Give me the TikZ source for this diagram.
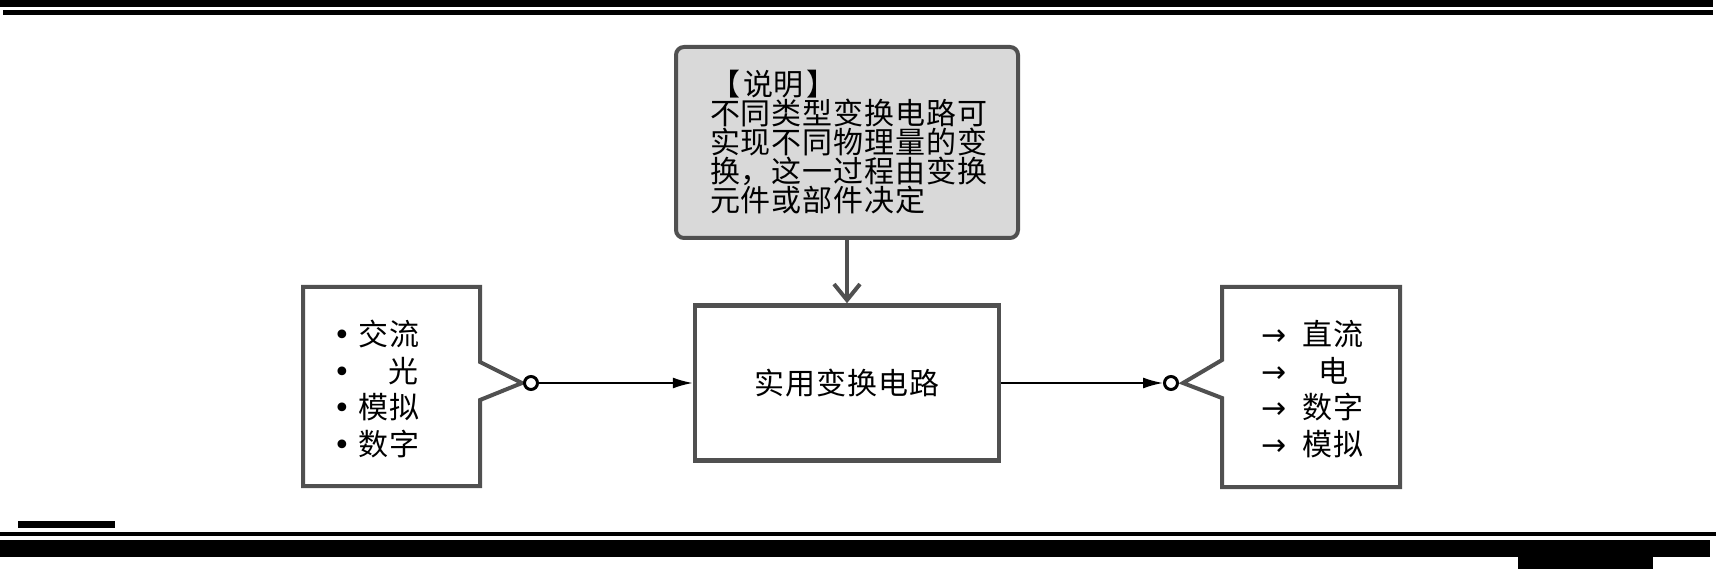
\documentclass[tikz,border=0pt]{standalone}
\usepackage{fontspec}
\setmainfont{Noto Sans CJK SC}[LetterSpace=3]
\newfontfamily\symb{DejaVu Sans}
\usetikzlibrary{positioning,arrows.meta}
\definecolor{framegray}{RGB}{80,80,80}
\definecolor{notefill}{RGB}{217,217,217}

\begin{document}
\begin{tikzpicture}[x=1pt, y=-1pt,
% first : the style of the scheme
    note/.style={
        rectangle,
        rounded corners=8pt,
        draw=framegray,
        fill=notefill,
        line width=4pt,
        align=left,
        text width=274pt,
        inner xsep=34pt,
        minimum height=191pt,
        font=\fontsize{30}{29}\selectfont
    },
    box/.style={
        rectangle,
        draw=framegray,
        line width=4.5pt,
        minimum width=304pt,
        minimum height=155pt,
        font=\fontsize{30}{30}\selectfont
    },
    port/.style={
        circle,
        draw=black,
        fill=white,
        line width=3pt,
        inner sep=0pt,
        minimum size=13pt
    },
    items/.style={
        align=left,
        inner sep=0pt,
        font=\fontsize{30}{36.5}\selectfont
    },
    >={Latex[length=20pt,width=11pt]}
]
\useasboundingbox (0,0) rectangle (1716,569);

% page rules
\fill (0,0) rectangle (1713,7.5);
\fill (3,10) rectangle (1713,15);
\fill (18,521) rectangle (115,528);
\fill (0,532) rectangle (1716,536);
\fill (0,540) rectangle (1710,557);
\fill (1518,557) rectangle (1653,569);

% caracteristic + text
\node[note] (note) at (847,142.5) {【\hspace{3pt}说明\hspace{3pt}】\\不同类型变换电路可\\实现不同物理量的变\\换，这一过程由变换\\元件或部件决定};
\node[box] (conv) at (847,383) {实用变换电路};

% input side
\draw[framegray, line width=4pt] (303,287) -- (480,287) -- (480,362) -- (522,383)
    -- (480,400) -- (480,486) -- (303,486) -- cycle;
\node[items, anchor=west] (inList) at (333,389) {{\symb •}\hspace{8pt}交流\\
    {\symb •}\hspace{8pt}\phantom{交}光\\
    {\symb •}\hspace{8pt}模拟\\
    {\symb •}\hspace{8pt}数字};
\node[port] (inPort) at (531,383) {};

% output side
\draw[framegray, line width=4pt] (1222,287) -- (1400,287) -- (1400,487) -- (1222,487)
    -- (1222,398) -- (1183,383) -- (1222,360) -- cycle;
\node[items, anchor=west] (outList) at (1261,389) {{\symb →}\hspace{16pt}\makebox[62pt]{直流}\\
    {\symb →}\hspace{16pt}\makebox[62pt]{电}\\
    {\symb →}\hspace{16pt}\makebox[62pt]{数字}\\
    {\symb →}\hspace{16pt}\makebox[62pt]{模拟}};
\node[port] (outPort) at (1171,383) {};

% links
\draw[framegray, line width=4pt, -{Straight Barb[length=16pt,width=26pt]}] (note) -- (conv);
\draw[->, line width=1.8pt] (inPort) -- (conv);
\draw[->, line width=1.8pt] (conv) -- (outPort);

\end{tikzpicture}
\end{document}
